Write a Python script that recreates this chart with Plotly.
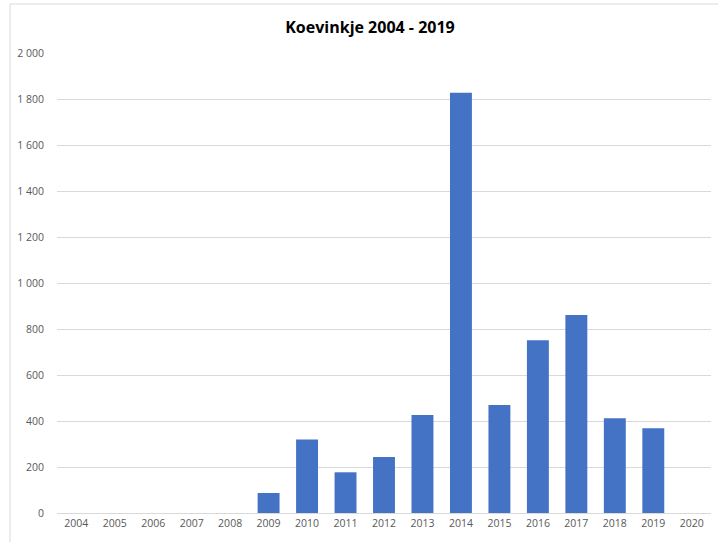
import plotly.graph_objects as go

# Yearly counts of Koevinkje (Common Linnet) sightings
years = [str(y) for y in range(2004, 2021)]
counts = [None, None, None, None, None, 87, 320, 177, 243, 426, 1827, 470, 751, 861, 412, 368, None]

W, H = 718, 542
L, R, T, B = 57, 7, 53, 29
pw, ph = W - L - R, H - T - B

fig = go.Figure(
    go.Bar(
        x=years,
        y=counts,
        marker=dict(color="#4472C4", line=dict(width=0)),
        width=0.57,
    )
)

fig.update_layout(
    width=W,
    height=H,
    margin=dict(l=L, r=R, t=T, b=B),
    paper_bgcolor="white",
    plot_bgcolor="white",
    separators=", ",
    showlegend=False,
    title=dict(
        text="<b>Koevinkje 2004 - 2019</b>",
        x=370 / W,
        xanchor="center",
        y=1 - 27 / H,
        yanchor="middle",
        font=dict(family="Open Sans, Liberation Sans, sans-serif", size=16, color="#000000"),
    ),
    font=dict(family="Open Sans, Liberation Sans, sans-serif", size=10.5, color="#595959"),
    xaxis=dict(
        type="category",
        showgrid=False,
        showline=False,
        ticks="",
        tickfont=dict(size=10.5, color="#595959"),
        ticklabelstandoff=2,
    ),
    yaxis=dict(
        range=[0, 2000],
        dtick=200,
        tickformat=",d",
        showgrid=True,
        gridcolor="#d9d9d9",
        gridwidth=1,
        zeroline=True,
        zerolinecolor="#d9d9d9",
        zerolinewidth=1,
        showline=False,
        ticks="",
        ticklabelstandoff=12,
        tickfont=dict(size=10.5, color="#595959"),
    ),
    shapes=[
        dict(
            type="rect",
            xref="paper",
            yref="paper",
            x0=(10 - L) / pw,
            x1=(W + 5 - L) / pw,
            y0=-(B + 5) / ph,
            y1=(H - B - 4) / ph,
            line=dict(color="#d9d9d9", width=1),
            fillcolor="rgba(0,0,0,0)",
            layer="below",
        )
    ],
)

fig.write_html("out.html")
